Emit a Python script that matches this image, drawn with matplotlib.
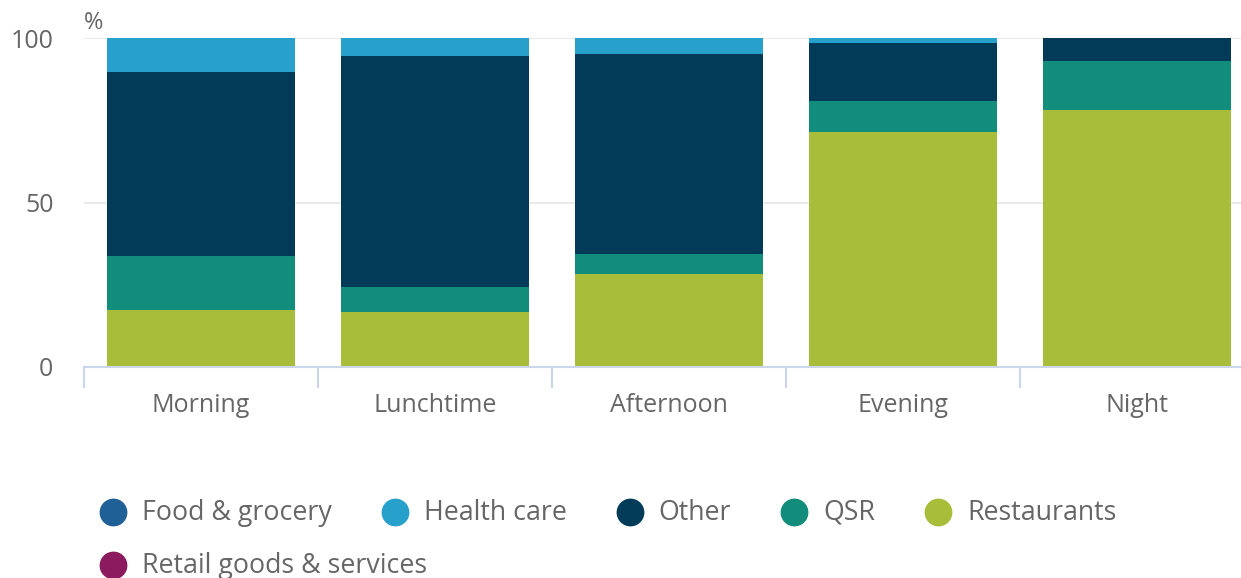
import matplotlib.pyplot as plt
import numpy as np
from matplotlib.lines import Line2D

plt.rcParams['font.family'] = ['Open Sans', 'DejaVu Sans']

# categories and series (% share of spend by time of day)
periods = ["Morning", "Lunchtime", "Afternoon", "Evening", "Night"]
restaurants = [17.3, 16.7, 28.3, 71.4, 78.1]
qsr = [16.4, 7.6, 6.0, 9.5, 14.9]
other = [56.0, 70.2, 60.8, 17.6, 7.0]
health_care = [10.3, 5.5, 4.9, 1.5, 0.0]
food_grocery = [0, 0, 0, 0, 0]
retail = [0, 0, 0, 0, 0]

series = [
    ("Restaurants", restaurants, "#a8bd3a"),
    ("QSR", qsr, "#128c7b"),
    ("Other", other, "#023b58"),
    ("Health care", health_care, "#27a1cc"),
    ("Food & grocery", food_grocery, "#1f6097"),
    ("Retail goods & services", retail, "#8b1a5e"),
]
legend_order = ["Food & grocery", "Health care", "Other", "QSR", "Restaurants",
                "Retail goods & services"]

W, H = 1241, 578
fig = plt.figure(figsize=(W / 100, H / 100), dpi=100)
ax = fig.add_axes([84 / W, (H - 367) / H, (1254 - 84) / W, (367 - 38) / H])

x = np.arange(len(periods))
bottom = np.zeros(len(periods))
for name, vals, col in series:
    vals = np.array(vals, dtype=float)
    ax.bar(x, vals, bottom=bottom, width=0.8, color=col, edgecolor='none', zorder=2)
    bottom += vals

ax.set_xlim(-0.5, len(periods) - 0.5)
ax.set_ylim(0, 100)
ax.set_yticks([0, 50, 100])
ax.grid(axis='y', color='#e6e6e6', linewidth=1.2, zorder=0)
ax.set_axisbelow(True)

for s in ['top', 'right', 'left']:
    ax.spines[s].set_visible(False)
ax.spines['bottom'].set_color('#ccd6eb')
ax.spines['bottom'].set_linewidth(1.5)
ax.spines['bottom'].set_zorder(3)

ax.set_xticks(x)
ax.set_xticklabels(periods)
ax.set_xticks(np.arange(-0.5, len(periods)), minor=True)
ax.tick_params(axis='x', which='major', length=0, pad=18.5, labelsize=18, labelcolor='#666666')
ax.tick_params(axis='x', which='minor', length=15, width=1.5, color='#ccd6eb')
ax.tick_params(axis='y', length=0, pad=22, labelsize=18, labelcolor='#666666')

fig.text(84 / W, 1 - 23 / H, "%", fontsize=17, color='#666666', va='center', ha='left')

# legend, flowing left to right like the original
colors = {n: c for n, _, c in series}
renderer = fig.canvas.get_renderer()
lx, ly = 100, 513
max_x = 1200
for name in legend_order:
    t = fig.text(0, 0, name, fontsize=19.3, color='#666666', va='center', ha='left')
    w = t.get_window_extent(renderer).width
    if lx + 42 + w > max_x:
        lx, ly = 100, ly + 53
    t.set_position(((lx + 42) / W, 1 - ly / H))
    fig.add_artist(Line2D([(lx + 13) / W], [1 - (ly - 1) / H], marker='o', markersize=19,
                          color=colors[name], linestyle='none', transform=fig.transFigure))
    lx += 42 + w + 50

fig.savefig("out.png", dpi=100)
